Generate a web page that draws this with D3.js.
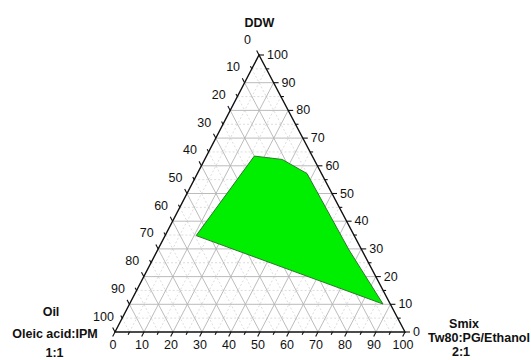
<!DOCTYPE html>
<html>
<head>
<meta charset="utf-8">
<script src="https://cdn.jsdelivr.net/npm/d3@7"></script>
<style>
  html, body { margin: 0; padding: 0; background: #fff; }
  svg { display: block; }
  text { font-family: "Liberation Sans", Arial, sans-serif; fill: #111; }
</style>
</head>
<body>
<svg id="chart" width="531" height="360"></svg>
<script>
// Pseudo-ternary phase diagram: Oil / DDW / Smix (percent, each vertex sums to 100)
const regionOil  = [20.0, 11.0, 5.0, 4.4, 2.5, 54.5];
const regionDDW  = [63.5, 62.3, 57.2, 29.6, 10.1, 34.8];
const regionSmix = [16.5, 26.7, 37.8, 66.0, 87.4, 10.7];

const tickValues = [0, 10, 20, 30, 40, 50, 60, 70, 80, 90, 100];
const minorValues = [5, 15, 25, 35, 45, 55, 65, 75, 85, 95];

const svg = d3.select("#chart");

// Triangle geometry: bottom edge is Smix (0 → 100, left → right),
// apex is DDW = 100, bottom-left corner is Oil = 100.
const yScale = d3.scaleLinear().domain([0, 100]).range([332, 55]);      // DDW → height
const smixX  = d3.scaleLinear().domain([0, 100]).range([115, 405]);     // Smix along base
const ddwDX  = d3.scaleLinear().domain([0, 100]).range([0, 144]);       // lean of the left edge

function pos(oil, ddw, smix) {
  return [smixX(smix) + ddwDX(ddw), yScale(ddw)];
}

const BL = pos(100, 0, 0), BR = pos(0, 0, 100), AP = pos(0, 100, 0);

// ---- grid ----
const grid = svg.append("g");
function gridLines(vals, cls) {
  vals.forEach(v => {
    const r = 100 - v;
    const segs = [
      [pos(r, v, 0), pos(0, v, r)],   // constant DDW (horizontal)
      [pos(r, 0, v), pos(0, r, v)],   // constant Smix (parallel to left edge)
      [pos(v, r, 0), pos(v, 0, r)]    // constant Oil (parallel to right edge)
    ];
    segs.forEach(s => {
      grid.append("line")
        .attr("x1", s[0][0]).attr("y1", s[0][1])
        .attr("x2", s[1][0]).attr("y2", s[1][1])
        .attr("stroke", cls === "major" ? "#b4b4b4" : "#d4d4d4")
        .attr("stroke-width", cls === "major" ? 0.9 : 0.8)
        .attr("stroke-dasharray", cls === "major" ? null : "2,2");
    });
  });
}
gridLines(minorValues, "minor");
gridLines(tickValues.filter(v => v > 0 && v < 100), "major");

// ---- region ----
const region = regionOil.map((o, i) => pos(o, regionDDW[i], regionSmix[i]));
svg.append("path")
  .attr("d", d3.line().curve(d3.curveLinearClosed)(region))
  .attr("fill", "#00ee00")
  .attr("stroke", "#2c7a2c")
  .attr("stroke-width", 1);

// ---- triangle frame ----
svg.append("path")
  .attr("d", d3.line().curve(d3.curveLinearClosed)([BL, BR, AP]))
  .attr("fill", "none")
  .attr("stroke", "#111")
  .attr("stroke-width", 1.4);

// ---- ticks & labels ----
const axes = svg.append("g");
const allTicks = d3.range(0, 101, 5);

function unit(a, b) { const dx = b[0] - a[0], dy = b[1] - a[1], l = Math.hypot(dx, dy); return [dx / l, dy / l]; }
const leftDir = unit(BR, AP);         // outward from left edge
const bottomDir = unit(AP, BL);       // outward from bottom edge
const rightDir = [1, 0];              // outward from right edge

function tick(p, d, len) {
  axes.append("line")
    .attr("x1", p[0]).attr("y1", p[1])
    .attr("x2", p[0] + d[0] * len).attr("y2", p[1] + d[1] * len)
    .attr("stroke", "#111").attr("stroke-width", 1.1);
}

allTicks.forEach(v => {
  const len = v % 10 === 0 ? 5 : 3;
  tick(pos(v, 100 - v, 0), leftDir, len);     // Oil axis (left edge)
  tick(pos(0, v, 100 - v), rightDir, len);    // DDW axis (right edge)
  tick(pos(100 - v, 0, v), bottomDir, len);   // Smix axis (bottom edge)
});

const fs = "12.5px";
tickValues.forEach(v => {
  const pl = pos(v, 100 - v, 0);
  axes.append("text")
    .attr("x", pl[0] - 11.5).attr("y", pl[1] - 15.5)
    .attr("text-anchor", "middle").attr("dominant-baseline", "central")
    .style("font-size", fs).text(v);

  const pr = pos(0, v, 100 - v);
  axes.append("text")
    .attr("x", pr[0] + 8).attr("y", pr[1])
    .attr("text-anchor", "start").attr("dominant-baseline", "central")
    .style("font-size", fs).text(v);

  const pb = pos(100 - v, 0, v);
  axes.append("text")
    .attr("x", pb[0] - 2).attr("y", pb[1] + 13)
    .attr("text-anchor", "middle").attr("dominant-baseline", "central")
    .style("font-size", fs).text(v);
});

// ---- axis titles ----
const titles = svg.append("g").style("font-weight", "bold").style("font-size", "12.5px");
titles.append("text").attr("x", 259.5).attr("y", 27).attr("text-anchor", "middle").text("DDW");
titles.append("text").attr("x", 51).attr("y", 316).attr("text-anchor", "middle").text("Oil");
titles.append("text").attr("x", 55).attr("y", 338).attr("text-anchor", "middle").text("Oleic acid:IPM");
titles.append("text").attr("x", 54.5).attr("y", 357).attr("text-anchor", "middle").text("1:1");
titles.append("text").attr("x", 464).attr("y", 328).attr("text-anchor", "middle").text("Smix");
titles.append("text").attr("x", 479).attr("y", 342).attr("text-anchor", "middle").text("Tw80:PG/Ethanol");
titles.append("text").attr("x", 461).attr("y", 356).attr("text-anchor", "middle").text("2:1");
</script>
</body>
</html>
